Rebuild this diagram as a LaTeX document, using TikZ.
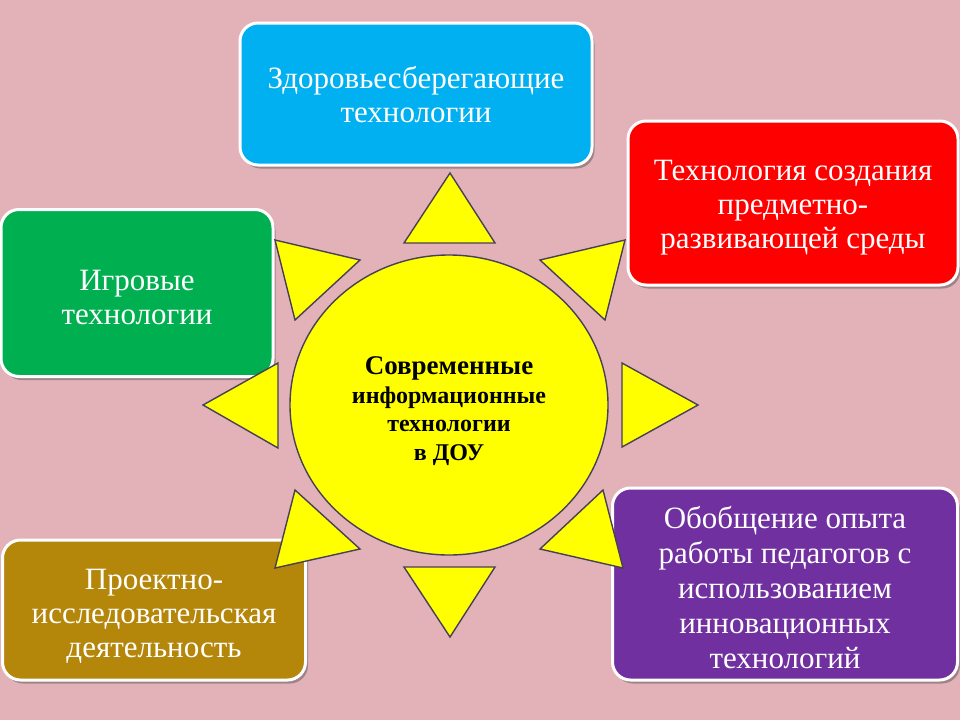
\documentclass[tikz,border=0pt]{standalone}
\usepackage{fontspec}
\setmainfont{Liberation Serif}
\usetikzlibrary{shadows,shapes.geometric}
\definecolor{bg}{RGB}{227,178,185}
\definecolor{cblue}{RGB}{0,176,240}
\definecolor{cred}{RGB}{255,0,0}
\definecolor{cgreen}{RGB}{0,176,80}
\definecolor{cbrown}{RGB}{180,134,10}
\definecolor{cpurple}{RGB}{112,48,160}
\definecolor{edge}{RGB}{72,64,86}
\definecolor{sunyellow}{RGB}{255,255,0}
\tikzset{
  box/.style={draw=white, line width=3pt, rounded corners=18pt, inner sep=0pt,
    drop shadow={shadow xshift=2.5pt, shadow yshift=-3.5pt, opacity=0.45, fill=black!70}},
  boxtext/.style={text=white, align=center, inner sep=0pt,
    font=\fontsize{31}{34}\selectfont},
  ray/.style={draw=edge, line width=1.4pt, fill=sunyellow, line join=miter},
  sun/.style={ellipse, draw=edge, line width=1.4pt, fill=sunyellow, inner sep=0pt},
  suntext/.style={align=center, inner sep=0pt, font=\bfseries\fontsize{24}{28.5}\selectfont}
}
\begin{document}
\begin{tikzpicture}[x=1pt,y=-1pt]
\useasboundingbox (0,0) rectangle (960,720);
\fill[bg] (0,0) rectangle (960,720);
% boxes
\node[box, fill=cblue, minimum width=352pt, minimum height=142pt] (health) at (416,94) {};
\node[box, fill=cred, minimum width=330pt, minimum height=164pt] (env) at (793,203) {};
\node[box, fill=cgreen, minimum width=272pt, minimum height=167pt] (game) at (137,293) {};
\node[box, fill=cbrown, minimum width=303pt, minimum height=140pt] (project) at (154,610) {};
\node[box, fill=cpurple, minimum width=345pt, minimum height=192pt] (exp) at (785,584) {};
\node[boxtext, yshift=-1pt] (healthT) at (health.center) {Здоровьесберегающие\\технологии};
\node[boxtext, yshift=-5pt] (envT) at (env.center) {Технология создания\\предметно-\\развивающей среды};
\node[boxtext, yshift=-4pt] (gameT) at (game.center) {Игровые\\технологии};
\node[boxtext, yshift=-6pt] (projectT) at (project.center) {Проектно-\\исследовательская\\деятельность};
\node[boxtext, yshift=-4pt, font=\fontsize{31}{35}\selectfont] (expT) at (exp.center) {Обобщение опыта\\работы педагогов с\\использованием\\инновационных\\технологий};
% rays
\draw[ray] (450,173) -- (404,243) -- (495,243) -- cycle;
\draw[ray] (450,637) -- (404,567) -- (495,567) -- cycle;
\draw[ray] (698,405) -- (622,363) -- (622,447) -- cycle;
\draw[ray] (203,405) -- (278,363) -- (278,448) -- cycle;
\draw[ray] (275,240) -- (360,260) -- (295,320) -- cycle;
\draw[ray] (625,240) -- (540,260) -- (605,320) -- cycle;
\draw[ray] (275,568) -- (360,549) -- (295,490) -- cycle;
\draw[ray] (623,568) -- (540,549) -- (603,490) -- cycle;
% sun
\node[sun, minimum width=318pt, minimum height=300pt] (sun) at (449,405) {};
\node[suntext, yshift=-6pt] (sunT) at (sun.center)
  {{\fontsize{27}{28.5}\selectfont Современные}\\информационные\\технологии\\в ДОУ};
\end{tikzpicture}
\end{document}
